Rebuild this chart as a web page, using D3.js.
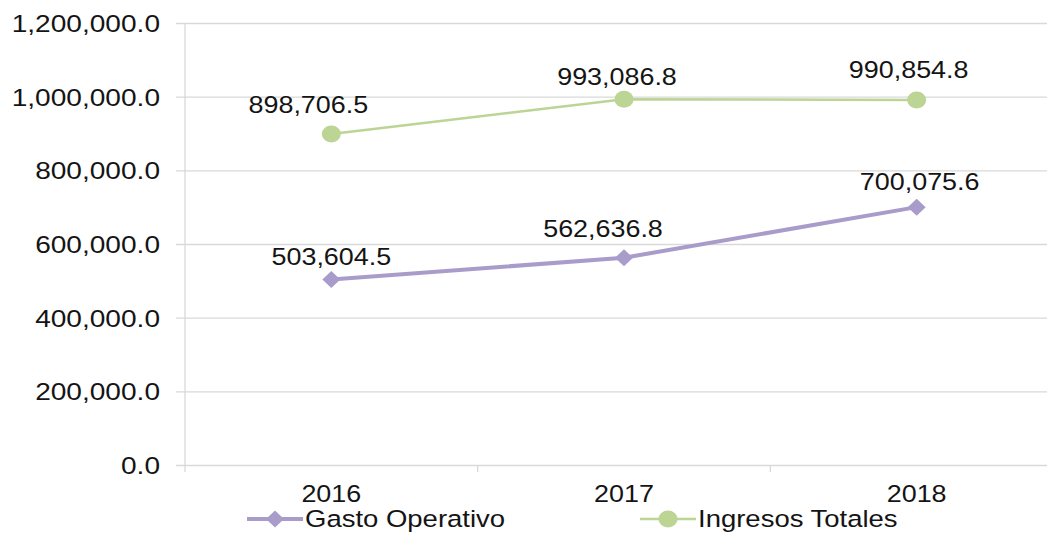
<!DOCTYPE html>
<html>
<head>
<meta charset="utf-8">
<script src="https://cdn.jsdelivr.net/npm/d3@7"></script>
<style>
  html, body { margin: 0; padding: 0; background: #fff; }
  svg { display: block; font-family: "Liberation Sans", Arial, sans-serif; }
</style>
</head>
<body>
<svg id="chart" width="1047" height="533"></svg>
<script>
// ---- data ----
const years = ["2016", "2017", "2018"];
const gastoOperativo = [503604.5, 562636.8, 700075.6];
const ingresosTotales = [898706.5, 993086.8, 990854.8];
const seriesNames = ["Gasto Operativo", "Ingresos Totales"];
const yTicks = [0, 200000, 400000, 600000, 800000, 1000000, 1200000];
// label nudges (layout only)
const gastoLabelNudge = [[0, -15], [-21, -21], [3, -17]];
const ingresosLabelNudge = [[-23, -21], [-7, -14], [-8, -22]];

// ---- layout ----
const W = 1047, H = 533;
const SX = 1.17; // horizontal text stretch of the original image
const axisX = 185, plotTop = 23, plotBottom = 465;
const purple = "#a99cca", green = "#bcd494", grid = "#d9d9d9", textCol = "#141414";

const svg = d3.select("#chart");

const x = d3.scaleBand().domain(years).range([axisX, 1063]).padding(0);
const y = d3.scaleLinear().domain([0, 1200000]).range([plotBottom, plotTop]);
const fmt = d3.format(",.1f");

function stretch(sel, px, py) {
  sel.attr("x", 0).attr("y", 0).attr("transform", `translate(${px},${py}) scale(${SX},1)`);
}

// y axis + gridlines
const yAxis = svg.append("g")
  .attr("transform", `translate(${axisX},0)`)
  .call(d3.axisLeft(y).tickValues(yTicks).tickFormat(fmt).tickSize(8));
yAxis.select(".domain").remove();
yAxis.selectAll(".tick line").attr("x1", -9).attr("x2", W - axisX).attr("stroke", grid).attr("stroke-width", 1.3);
yAxis.selectAll(".tick text")
  .attr("dy", null)
  .attr("fill", textCol)
  .style("font-size", "24px")
  .attr("text-anchor", "end")
  .each(function() { stretch(d3.select(this), -25, 8.5); });

// vertical axis line
svg.append("line")
  .attr("x1", axisX).attr("x2", axisX)
  .attr("y1", y(1200000)).attr("y2", plotBottom + 7)
  .attr("stroke", grid).attr("stroke-width", 1.3);

// x axis (labels at band centers, ticks at band boundaries)
const xAxis = svg.append("g")
  .attr("transform", `translate(0,${plotBottom})`)
  .call(d3.axisBottom(x).tickSize(0));
xAxis.select(".domain").remove();
xAxis.selectAll(".tick text")
  .attr("dy", null)
  .attr("fill", textCol)
  .style("font-size", "23px")
  .attr("text-anchor", "middle")
  .each(function() { stretch(d3.select(this), 0, 36.5); });
svg.append("g").selectAll("line")
  .data(years.slice(1))
  .join("line")
  .attr("x1", d => x(d)).attr("x2", d => x(d))
  .attr("y1", plotBottom).attr("y2", plotBottom + 7)
  .attr("stroke", grid).attr("stroke-width", 1.3);

const cx = d => x(d) + x.bandwidth() / 2;

// lines
const line = d3.line().x(d => cx(d[0])).y(d => y(d[1]));
const gastoPts = years.map((yr, i) => [yr, gastoOperativo[i]]);
const ingresosPts = years.map((yr, i) => [yr, ingresosTotales[i]]);

svg.append("path").datum(ingresosPts).attr("d", line)
  .attr("fill", "none").attr("stroke", green).attr("stroke-width", 2.5);
svg.append("path").datum(gastoPts).attr("d", line)
  .attr("fill", "none").attr("stroke", purple).attr("stroke-width", 4);

// markers
const diamond = "M0,-8.5 L9,0 L0,8.5 L-9,0 Z";
svg.append("g").selectAll("path")
  .data(gastoPts).join("path")
  .attr("d", diamond)
  .attr("transform", d => `translate(${cx(d[0])},${y(d[1])})`)
  .attr("fill", purple);
svg.append("g").selectAll("ellipse")
  .data(ingresosPts).join("ellipse")
  .attr("cx", d => cx(d[0])).attr("cy", d => y(d[1]))
  .attr("rx", 9.5).attr("ry", 8.5)
  .attr("fill", green);

// data labels
function labels(pts, nudge) {
  svg.append("g").selectAll("text")
    .data(pts).join("text")
    .text(d => fmt(d[1]))
    .attr("fill", textCol)
    .style("font-size", "23px")
    .attr("text-anchor", "middle")
    .each(function(d, i) { stretch(d3.select(this), cx(d[0]) + nudge[i][0], y(d[1]) + nudge[i][1]); });
}
labels(gastoPts, gastoLabelNudge);
labels(ingresosPts, ingresosLabelNudge);

// legend
const legend = svg.append("g");
const legItems = [
  { name: seriesNames[0], color: purple, x0: 247, width: 4, marker: "diamond" },
  { name: seriesNames[1], color: green, x0: 640, width: 2.5, marker: "circle" }
];
legItems.forEach(it => {
  const ly = 519;
  legend.append("line").attr("x1", it.x0).attr("x2", it.x0 + 56)
    .attr("y1", ly).attr("y2", ly).attr("stroke", it.color).attr("stroke-width", it.width);
  if (it.marker === "diamond") {
    legend.append("path").attr("d", diamond)
      .attr("transform", `translate(${it.x0 + 28},${ly})`).attr("fill", it.color);
  } else {
    legend.append("ellipse").attr("cx", it.x0 + 28).attr("cy", ly)
      .attr("rx", 9.5).attr("ry", 8.5).attr("fill", it.color);
  }
  const t = legend.append("text").text(it.name).attr("fill", textCol)
    .style("font-size", "23.5px").attr("text-anchor", "start");
  stretch(t, it.x0 + 58, ly + 8);
});
</script>
</body>
</html>
